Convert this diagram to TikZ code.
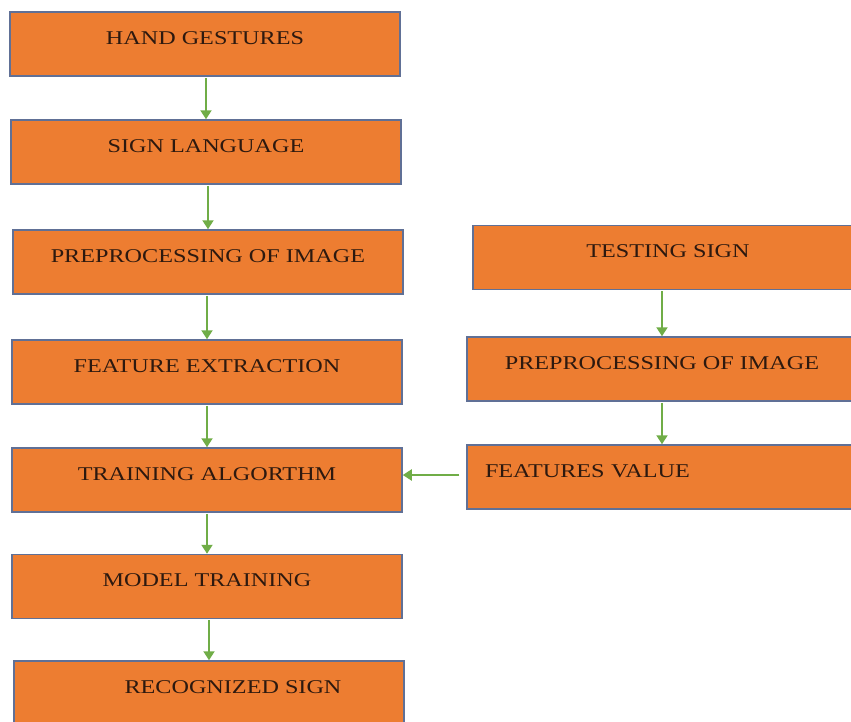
\documentclass[tikz,border=0pt]{standalone}
\usepackage{fontspec}
\newfontfamily\boxfont[FakeStretch=1.24]{Liberation Serif}
\usepackage{tikz}
\usetikzlibrary{arrows.meta}
\definecolor{boxorange}{RGB}{237,125,49}
\definecolor{boxedge}{RGB}{96,112,150}
\definecolor{arrowgreen}{RGB}{112,173,71}
\definecolor{boxtext}{RGB}{45,25,15}
\tikzstyle{box} = [rectangle, minimum width=390pt, minimum height=64pt, text height=14pt, text depth=14pt, draw=boxedge, line width=1.5pt, fill=boxorange, text=boxtext, font=\boxfont\fontsize{19.5pt}{22pt}\selectfont]
\tikzstyle{arrow} = [line width=2pt, draw=arrowgreen, -{Triangle[width=11pt,length=9pt]}, shorten <=1pt]

\begin{document}
\begin{tikzpicture}[x=1pt, y=1pt, node distance=108pt]
\clip (0,0) rectangle (851,-721);

% Training chain
\node (handgestures) [box] at (205,-44) {HAND GESTURES};
\node (signlanguage) [box, below of=handgestures, xshift=1pt] {SIGN LANGUAGE};
\node (preprocessing) [box, below of=signlanguage, xshift=2pt, yshift=-2pt] {PREPROCESSING OF IMAGE};
\node (featureextraction) [box, below of=preprocessing, xshift=-1pt, yshift=-2pt] {FEATURE EXTRACTION};
\node (trainingalg) [box, below of=featureextraction] {TRAINING ALGORTHM};
\node (modeltraining) [box, below of=trainingalg, yshift=1.5pt] {MODEL TRAINING};
\node (recognizedsign) [box, below of=modeltraining, xshift=2pt, yshift=1.5pt] {\hspace*{48pt}RECOGNIZED SIGN};

% Testing chain
\node (testingsign) [box] at (668,-257.5) {TESTING SIGN};
\node (testpreprocessing) [box, below of=testingsign, xshift=-6pt, yshift=-3.5pt] {PREPROCESSING OF IMAGE};
\node (featuresvalue) [box, below of=testpreprocessing, text width=354pt, align=left] {FEATURES VALUE};

% Arrows
\draw [arrow] (handgestures.south -| signlanguage.north) -- (signlanguage.north);
\draw [arrow] (signlanguage.south -| preprocessing.north) -- (preprocessing.north);
\draw [arrow] (preprocessing.south -| featureextraction.north) -- (featureextraction.north);
\draw [arrow] (featureextraction.south -| trainingalg.north) -- (trainingalg.north);
\draw [arrow] (trainingalg.south -| modeltraining.north) -- (modeltraining.north);
\draw [arrow] (modeltraining.south -| recognizedsign.north) -- (recognizedsign.north);

\draw [arrow] (testingsign.south -| testpreprocessing.north) -- (testpreprocessing.north);
\draw [arrow] (testpreprocessing.south -| featuresvalue.north) -- (featuresvalue.north);
\draw [arrow, shorten <=7pt] ([yshift=2pt]featuresvalue.west) -- ([yshift=2pt]featuresvalue.west -| trainingalg.east);

\end{tikzpicture}
\end{document}
